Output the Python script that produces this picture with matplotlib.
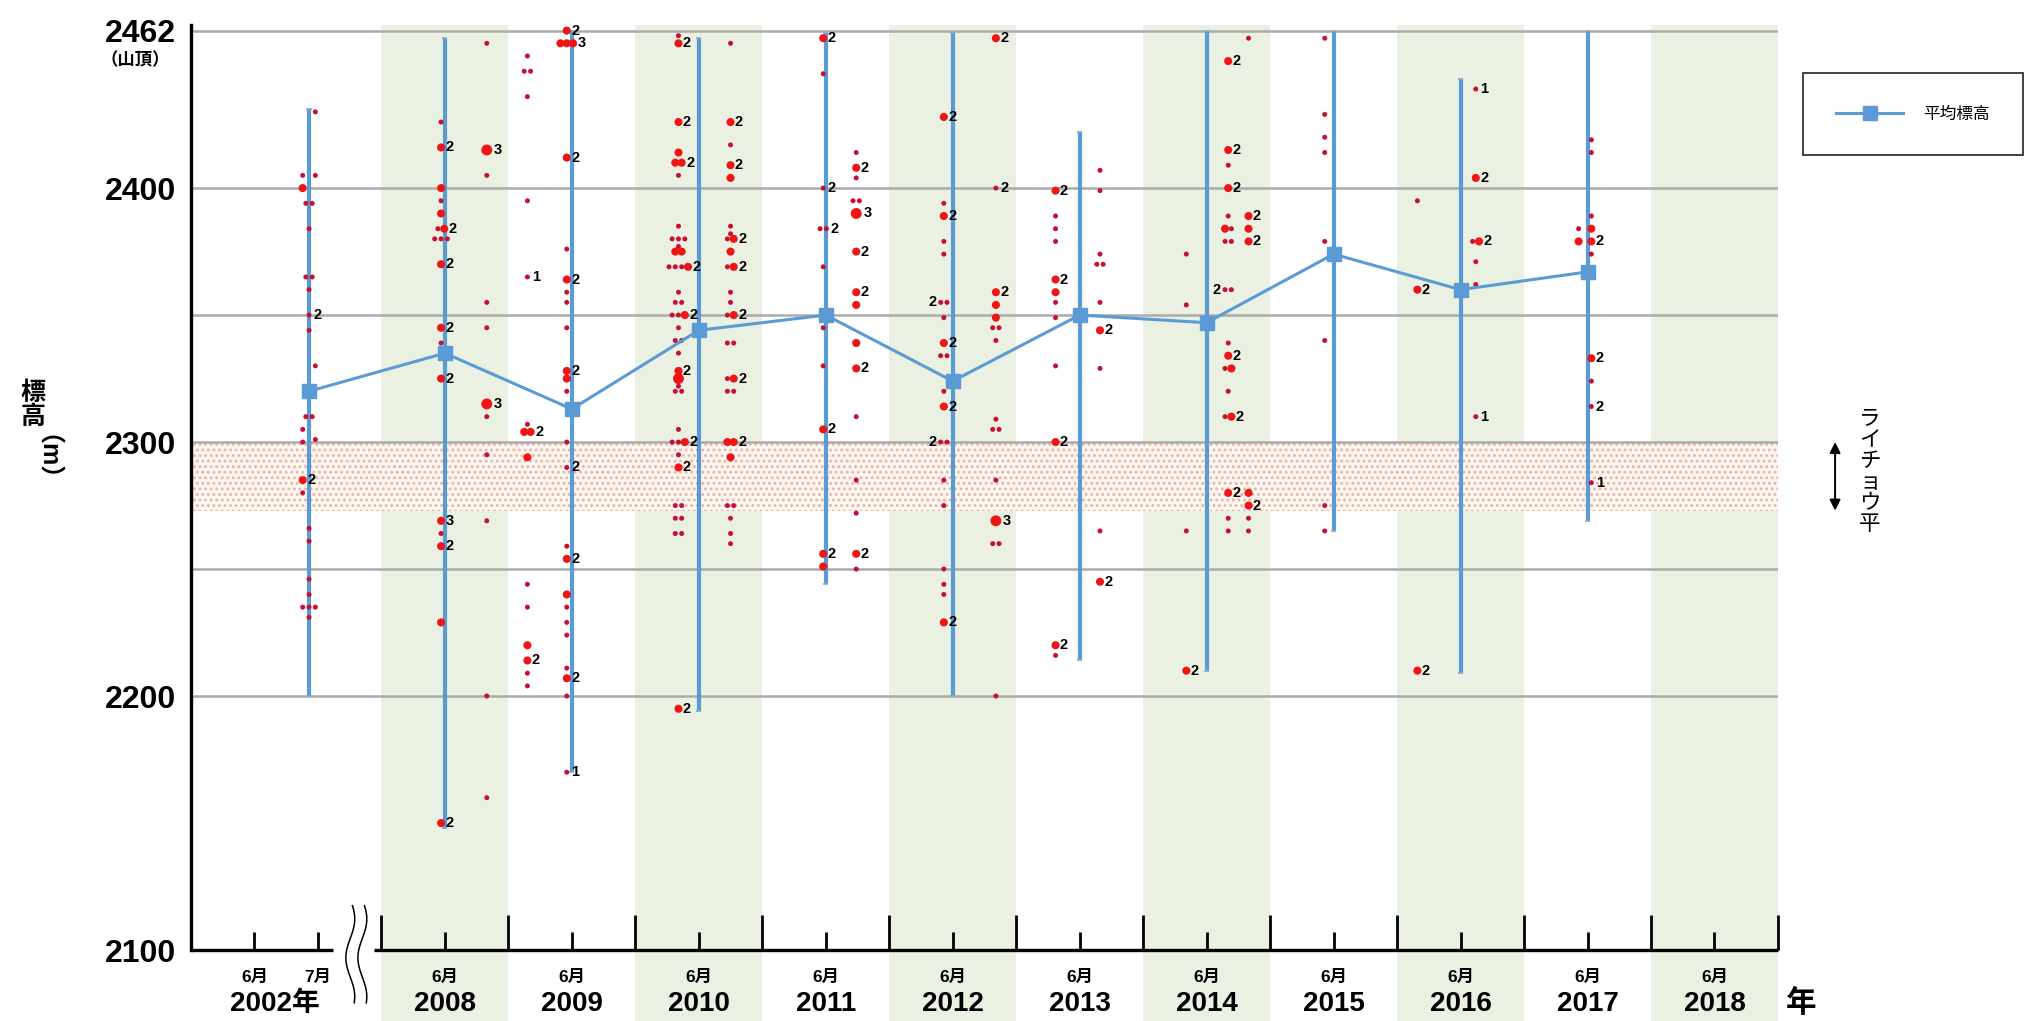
import numpy as np
import matplotlib
matplotlib.use("Agg")
import matplotlib.pyplot as plt
from matplotlib.transforms import blended_transform_factory

plt.rcParams['font.family'] = ['Liberation Sans', 'Noto Sans CJK JP', 'DejaVu Sans']
plt.rcParams['hatch.linewidth'] = 1.3

# ---- data ----
years = [2002, 2008, 2009, 2010, 2011, 2012, 2013, 2014, 2015, 2016, 2017]
mean_elev = [2320, 2335, 2313, 2344, 2350, 2324, 2350, 2347, 2374, 2360, 2367]
range_min = [2200, 2148, 2170, 2194, 2244, 2200, 2214, 2210, 2265, 2209, 2269]
range_max = [2431, 2459, 2462, 2459, 2461, 2461, 2422, 2462, 2462, 2443, 2462]

axis_years = [2008, 2009, 2010, 2011, 2012, 2013, 2014, 2015, 2016, 2017, 2018]
green_years = [2008, 2010, 2012, 2014, 2016, 2018]
ytick_vals = [2100, 2200, 2300, 2400, 2462]
grid_vals = [2200, 2250, 2300, 2350, 2400, 2462]
raicho_low, raicho_high = 2273, 2300

# sighting points: (elevation, column, dots in a row s/m/l, count label)
pts_2002 = [(2430, 2, 's', ''), (2405, 0, 's', ''), (2405, 2, 's', ''), (2400, 0, 'm', ''),
            (2394, 1, 'ss', ''), (2384, 1, 's', ''), (2365, 1, 'ss', ''), (2360, 1, 's', ''),
            (2350, 1, 's', '2'), (2344, 1, 's', ''), (2330, 2, 's', ''), (2310, 1, 'ss', ''),
            (2305, 0, 's', ''), (2300, 0, 's', ''), (2301, 2, 's', ''), (2285, 0, 'm', '2'),
            (2280, 0, 's', ''), (2266, 1, 's', ''), (2261, 1, 's', ''), (2246, 1, 's', ''),
            (2240, 1, 's', ''), (2235, 0, 's', ''), (2235, 1, 's', ''), (2235, 2, 's', ''),
            (2231, 1, 's', '')]
pts_2008 = [(2457, 1, 's', ''), (2426, 0, 's', ''), (2416, 0, 'm', '2'), (2415, 1, 'l', '3'),
            (2405, 1, 's', ''), (2400, 0, 'm', ''), (2395, 0, 's', ''), (2390, 0, 'm', ''),
            (2384, 0, 'sm', '2'), (2380, 0, 'sss', ''), (2370, 0, 'm', '2'), (2355, 1, 's', ''),
            (2345, 0, 'm', '2'), (2345, 1, 's', ''), (2339, 0, 's', ''), (2325, 0, 'm', '2'),
            (2315, 1, 'l', '3'), (2310, 1, 's', ''), (2295, 1, 's', ''), (2269, 0, 'm', '3'),
            (2269, 1, 's', ''), (2264, 0, 's', ''), (2259, 0, 'm', '2'), (2229, 0, 'm', ''),
            (2200, 1, 's', ''), (2160, 1, 's', ''), (2150, 0, 'm', '2')]
pts_2009 = [(2462, 1, 'm', '2'), (2457, 1, 'mmm', '3'), (2452, 0, 's', ''), (2446, 0, 'ss', ''),
            (2436, 0, 's', ''), (2412, 1, 'm', '2'), (2395, 0, 's', ''), (2376, 1, 's', ''),
            (2365, 0, 's', '1'), (2364, 1, 'm', '2'), (2359, 1, 's', ''), (2355, 1, 's', ''),
            (2345, 1, 's', ''), (2328, 1, 'm', '2'), (2325, 1, 'm', ''), (2320, 1, 's', ''),
            (2307, 0, 's', ''), (2304, 0, 'mm', '2'), (2300, 1, 's', ''), (2294, 0, 'm', ''),
            (2290, 1, 's', '2'), (2259, 1, 's', ''), (2254, 1, 'm', '2'), (2244, 0, 's', ''),
            (2240, 1, 'm', ''), (2235, 0, 's', ''), (2235, 1, 's', ''), (2229, 1, 's', ''),
            (2224, 1, 's', ''), (2220, 0, 'm', ''), (2214, 0, 'm', '2'), (2211, 1, 's', ''),
            (2209, 0, 's', ''), (2207, 1, 'm', '2'), (2204, 0, 's', ''), (2200, 1, 's', ''),
            (2170, 1, 's', '1')]
pts_2010 = [(2460, 0, 's', ''), (2457, 0, 'm', '2'), (2457, 1, 's', ''), (2426, 0, 'm', '2'),
            (2426, 1, 'm', '2'), (2417, 1, 's', ''), (2414, 0, 'm', ''), (2410, 0, 'mm', '2'),
            (2409, 1, 'm', '2'), (2405, 0, 's', ''), (2404, 1, 'm', ''), (2385, 0, 's', ''),
            (2385, 1, 's', ''), (2382, 1, 's', ''), (2380, 0, 'sss', ''), (2380, 1, 'sm', '2'),
            (2377, 0, 's', ''), (2375, 0, 'mm', ''), (2375, 1, 'm', ''), (2369, 0, 'sssm', '2'),
            (2369, 1, 'sm', '2'), (2359, 0, 's', ''), (2359, 1, 's', ''), (2355, 0, 'ss', ''),
            (2355, 1, 's', ''), (2350, 0, 'ssm', '2'), (2350, 1, 'sm', '2'), (2345, 0, 's', ''),
            (2340, 0, 'ss', ''), (2339, 1, 'ss', ''), (2335, 0, 's', ''), (2328, 0, 'm', '2'),
            (2325, 0, 'l', ''), (2325, 1, 'sm', '2'), (2322, 0, 's', ''), (2320, 0, 'ss', ''),
            (2320, 1, 'ss', ''), (2305, 0, 's', ''), (2300, 0, 'ssm', '2'), (2300, 1, 'mm', '2'),
            (2295, 0, 's', ''), (2294, 1, 'm', ''), (2290, 0, 'm', '2'), (2275, 0, 'ss', ''),
            (2275, 1, 'ss', ''), (2270, 0, 'ss', ''), (2270, 1, 's', ''), (2264, 0, 'ss', ''),
            (2264, 1, 's', ''), (2260, 1, 's', ''), (2195, 0, 'm', '2')]
pts_2011 = [(2459, 0, 'm', '2'), (2445, 0, 's', ''), (2414, 1, 's', ''), (2408, 1, 'm', '2'),
            (2404, 1, 's', ''), (2400, 0, 's', '2'), (2395, 1, 'ss', ''), (2390, 1, 'l', '3'),
            (2384, 0, 'ss', '2'), (2375, 1, 'm', '2'), (2369, 0, 's', ''), (2359, 1, 'm', '2'),
            (2354, 1, 'm', ''), (2345, 0, 's', ''), (2339, 1, 'm', ''), (2330, 0, 's', ''),
            (2329, 1, 'm', '2'), (2310, 1, 's', ''), (2305, 0, 'm', '2'), (2285, 1, 's', ''),
            (2272, 1, 's', ''), (2256, 0, 'm', '2'), (2256, 1, 'm', '2'), (2251, 0, 'm', ''),
            (2250, 1, 's', '')]
pts_2012 = [(2459, 1, 'm', '2'), (2428, 0, 'm', '2'), (2400, 1, 's', '2'), (2394, 0, 's', ''),
            (2389, 0, 'm', '2'), (2379, 0, 's', ''), (2374, 0, 's', ''), (2359, 1, 'm', '2'),
            (2355, 0, 'ss', '<2'), (2354, 1, 'm', ''), (2349, 0, 's', ''), (2349, 1, 'm', ''),
            (2345, 1, 'ss', ''), (2339, 0, 'm', '2'), (2340, 1, 's', ''), (2334, 0, 'ss', ''),
            (2320, 0, 's', ''), (2314, 0, 'm', '2'), (2309, 1, 's', ''), (2305, 1, 'ss', ''),
            (2300, 0, 'ss', '<2'), (2285, 0, 's', ''), (2285, 1, 's', ''), (2275, 0, 's', ''),
            (2269, 1, 'l', '3'), (2260, 1, 'ss', ''), (2250, 0, 's', ''), (2244, 0, 's', ''),
            (2240, 0, 's', ''), (2229, 0, 'm', '2'), (2200, 1, 's', '')]
pts_2013 = [(2407, 1, 's', ''), (2399, 0, 'm', '2'), (2399, 1, 's', ''), (2389, 0, 's', ''),
            (2384, 0, 's', ''), (2379, 0, 's', ''), (2374, 1, 's', ''), (2370, 1, 'ss', ''),
            (2364, 0, 'm', '2'), (2359, 0, 'm', ''), (2355, 0, 's', ''), (2355, 1, 's', ''),
            (2349, 0, 's', ''), (2344, 1, 'm', '2'), (2330, 0, 's', ''), (2329, 1, 's', ''),
            (2300, 0, 'm', '2'), (2265, 1, 's', ''), (2245, 1, 'm', '2'), (2220, 0, 'm', '2'),
            (2216, 0, 's', '')]
pts_2014 = [(2459, 2, 's', ''), (2450, 1, 'm', '2'), (2415, 1, 'm', '2'), (2409, 1, 's', ''),
            (2400, 1, 'm', '2'), (2389, 1, 's', ''), (2389, 2, 'm', '2'), (2384, 1, 'ms', ''),
            (2384, 2, 'm', ''), (2379, 1, 'ss', ''), (2379, 2, 'm', '2'), (2374, 0, 's', ''),
            (2360, 1, 'ss', '<2'), (2354, 0, 's', ''), (2339, 1, 's', ''), (2334, 1, 'm', '2'),
            (2329, 1, 'sm', ''), (2320, 1, 's', ''), (2310, 1, 'sm', '2'), (2280, 1, 'm', '2'),
            (2280, 2, 'm', ''), (2275, 2, 'm', '2'), (2270, 1, 's', ''), (2270, 2, 's', ''),
            (2265, 0, 's', ''), (2265, 1, 's', ''), (2265, 2, 's', ''), (2210, 0, 'm', '2')]
pts_2015 = [(2459, 0, 's', ''), (2429, 0, 's', ''), (2420, 0, 's', ''), (2414, 0, 's', ''),
            (2379, 0, 's', ''), (2340, 0, 's', ''), (2275, 0, 's', ''), (2265, 0, 's', '')]
pts_2016 = [(2439, 1, 's', '1'), (2404, 1, 'm', '2'), (2395, 0, 's', ''), (2379, 1, 'sm', '2'),
            (2371, 1, 's', ''), (2362, 1, 's', ''), (2360, 0, 'm', '2'), (2310, 1, 's', '1'),
            (2210, 0, 'm', '2')]
pts_2017 = [(2419, 0, 's', ''), (2414, 0, 's', ''), (2389, 0, 's', ''), (2384, 1, 's', ''),
            (2384, 0, 'm', ''), (2379, 1, 'm', ''), (2379, 0, 'm', '2'), (2374, 0, 's', ''),
            (2333, 0, 'm', '2'), (2324, 0, 's', ''), (2314, 0, 's', '2'), (2284, 0, 's', '1')]

points = {2002: pts_2002, 2008: pts_2008, 2009: pts_2009, 2010: pts_2010, 2011: pts_2011,
          2012: pts_2012, 2013: pts_2013, 2014: pts_2014, 2015: pts_2015, 2016: pts_2016,
          2017: pts_2017}

# ---- layout ----
# one unit of x = one survey year; 2002 has its own 6月/7月 slots left of the break
x_2002_jun, x_2002_jul = 6.5, 7.0


def slot_x(year):
    return x_2002_jul - 0.07 if year == 2002 else year - 2000


col_offset = {2002: [-0.05, 0.0, 0.05], 2008: [-0.03, 0.33], 2009: [-0.35, -0.04],
              2010: [-0.16, 0.25], 2011: [-0.02, 0.24], 2012: [-0.07, 0.34],
              2013: [-0.19, 0.16], 2014: [-0.16, 0.17, 0.33], 2015: [-0.07],
              2016: [-0.34, 0.12], 2017: [0.03, -0.07]}
dot_size = {'s': 13, 'm': 34, 'l': 62}
dot_color = {'s': '#c81030', 'm': '#f01515', 'l': '#f01515'}
step = 0.05

blue = '#5b9bd5'
green = '#eaf1e2'

fig = plt.figure(figsize=(20.25, 10.21), dpi=100)
ax = fig.add_axes([0.0943, 0.0695, 0.7837, 0.906])
ax.set_xlim(6, 18.5)
ax.set_ylim(2100, 2464.2)
bt = blended_transform_factory(ax.transData, ax.transAxes)

# green bands reaching into the label area
for y in green_years:
    ax.axvspan(y - 2000 - 0.5, y - 2000 + 0.5, ymin=-0.08, ymax=1.0, color=green,
               zorder=0, lw=0, clip_on=False)

# raicho-daira band
ax.fill_between([6, 18.5], raicho_low, raicho_high, facecolor='#fdf6f1',
                edgecolor='#e9b4a2', hatch='...', lw=0, zorder=0.5)

for g in grid_vals:
    ax.axhline(g, color='#ababab', lw=1.8, zorder=1)

# range bars
xs_mean = [slot_x(y) for y in years]
ax.vlines(xs_mean, range_min, range_max, color=blue, lw=3, zorder=3)
ax.hlines(range_min + range_max, [x - 0.02 for x in xs_mean] * 2, [x + 0.02 for x in xs_mean] * 2,
          color='#8aa8c8', lw=1.2, zorder=3)

# sighting dots
px, py, ps, pc = [], [], [], []
for year, plist in points.items():
    xc = slot_x(year)
    for elev, col, kind, label in plist:
        x0 = xc + col_offset[year][col] - step * (len(kind) - 1) / 2
        row = [x0 + i * step for i in range(len(kind))]
        for x, k in zip(row, kind):
            px.append(x)
            py.append(elev)
            ps.append(dot_size[k])
            pc.append(dot_color[k])
        if label:
            if label.startswith('<'):
                ax.text(row[0] - 0.035, elev, label[1:], ha='right', va='center',
                        fontsize=10.5, fontweight='bold', zorder=6)
            else:
                extra = 0.02 if kind[-1] == 'l' else 0.0
                ax.text(row[-1] + 0.035 + extra, elev, label, ha='left', va='center',
                        fontsize=10.5, fontweight='bold', zorder=6)
ax.scatter(px, py, s=ps, c=pc, lw=0, zorder=4)

# mean line
line, = ax.plot(xs_mean, mean_elev, color=blue, lw=2.2, marker='s', ms=10,
                markerfacecolor=blue, markeredgecolor=blue, zorder=5)

# axes styling
for s in ['top', 'right', 'bottom']:
    ax.spines[s].set_visible(False)
ax.spines['left'].set_linewidth(2.4)
ax.set_yticks(ytick_vals)
ax.set_yticklabels([str(v) for v in ytick_vals], fontsize=23, fontweight='bold')
ax.tick_params(axis='y', length=0, pad=11)
ax.set_xticks([])

# custom broken x axis
ax.plot([6, 7.12], [0, 0], color='black', lw=2.4, transform=bt, clip_on=False, zorder=6,
        solid_capstyle='butt')
ax.plot([7.44, 18.5], [0, 0], color='black', lw=2.4, transform=bt, clip_on=False, zorder=6,
        solid_capstyle='butt')
major = [y - 2000 - 0.5 for y in axis_years] + [axis_years[-1] - 2000 + 0.5]
minor = [x_2002_jun, x_2002_jul] + [y - 2000 for y in axis_years]
ax.vlines(major, 0, 0.038, color='black', lw=2, transform=bt, clip_on=False, zorder=6)
ax.vlines(minor, 0, 0.019, color='black', lw=2, transform=bt, clip_on=False, zorder=6)

# break mark (two wavy strokes)
t = np.linspace(0, 1, 60)
for xc in [7.255, 7.35]:
    ax.plot(xc + 0.035 * np.sin(2 * np.pi * 1.25 * t + 0.5), 0.048 - 0.105 * t, color='black',
            lw=1.1, transform=bt, clip_on=False, zorder=6)

# x labels
for y in axis_years:
    ax.text(y - 2000, -0.030, '6月', transform=bt, ha='center', va='center', fontsize=12.5,
            fontweight='bold')
    ax.text(y - 2000, -0.058, str(y), transform=bt, ha='center', va='center', fontsize=20,
            fontweight='bold')
ax.text(x_2002_jun, -0.030, '6月', transform=bt, ha='center', va='center', fontsize=12.5,
        fontweight='bold')
ax.text(x_2002_jul, -0.030, '7月', transform=bt, ha='center', va='center', fontsize=12.5,
        fontweight='bold')
ax.text(6.66, -0.058, '2002年', transform=bt, ha='center', va='center', fontsize=20,
        fontweight='bold')
ax.text(18.68, -0.058, '年', transform=bt, ha='center', va='center', fontsize=22,
        fontweight='bold')

# summit note and y label
fig.text(135 / 2025, 1 - 60 / 1021, '（山頂）', ha='center', va='center', fontsize=12.5,
         fontweight='bold')
fig.text(33 / 2025, 1 - 405 / 1021, '標\n高', ha='center', va='center', fontsize=18,
         fontweight='bold', linespacing=1.0)
fig.text(33 / 2025, 1 - 470 / 1021, '（m）', ha='center', va='center', fontsize=18,
         fontweight='bold', rotation=-90)

# raicho-daira arrow and label
ax.annotate('', xy=(18.95, raicho_low), xytext=(18.95, raicho_high),
            arrowprops=dict(arrowstyle='<|-|>', color='black', lw=1.4, mutation_scale=16,
                            shrinkA=0, shrinkB=0), annotation_clip=False)
fig.text(1870 / 2025, 1 - 472 / 1021, '\n'.join('ライチョウ平'), ha='center', va='center',
         fontsize=15.5, linespacing=1.0)

# legend
leg = fig.legend([line], ['平均標高'], loc='upper left',
                 bbox_to_anchor=(1803 / 2025, 1 - 73 / 1021), fontsize=12, frameon=True,
                 fancybox=False, edgecolor='black', borderpad=2.0, handlelength=4.0,
                 handletextpad=1.2, borderaxespad=0, numpoints=1)
leg.get_frame().set_linewidth(1.3)

fig.savefig('out.png', dpi=100)
